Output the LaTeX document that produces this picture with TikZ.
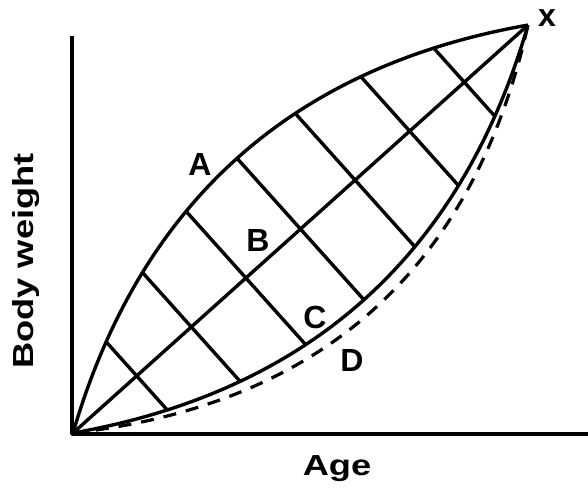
\documentclass[tikz,border=0pt]{standalone}
\usepackage{fontspec}
\setmainfont{Liberation Sans}
\newfontfamily\axisfont[FakeStretch=1.25]{Liberation Sans}
\usetikzlibrary{calc}

\begin{document}
\begin{tikzpicture}[x=1pt, y=-1pt, line width=3.4pt, line join=round,
    lbl/.style={font=\bfseries\fontsize{32}{32}\selectfont, inner sep=0pt},
    axlbl/.style={font=\axisfont\bfseries\fontsize{29}{29}\selectfont, inner sep=0pt, anchor=base}]
  \useasboundingbox (0,0) rectangle (588,492);
  % axes
  \coordinate (O) at (73,433);
  \coordinate (X) at (528,25);
  \coordinate (ytop) at (72,36);
  \coordinate (xend) at (588,434);
  \draw[line width=3.6pt] (ytop) |- (xend);
  \node[axlbl, rotate=90] (ylab) at (33,261) {Body weight};
  \node[axlbl] (xlab) at (337,475) {Age};
  % lens along the diagonal O -> X
  \begin{scope}[shift={(O)}, rotate=41.88, x=1pt, y=1pt]
    \def\len{611.1}
    \draw (0,0) .. controls (\len/3,126.7) and (2*\len/3,126.7) .. (\len,0);   % A
    \draw (0,0) -- (\len,0);                                                   % B
    \draw (0,0) .. controls (\len/3,-126.7) and (2*\len/3,-126.7) .. (\len,0); % C
    \draw[line width=3.2pt, dash pattern=on 13pt off 10pt]
      (0,0) .. controls (\len/3,-145) and (2*\len/3,-145) .. (\len,0);         % D
    \foreach \t in {0.14,0.26,0.38,0.5,0.62,0.74,0.86}{
      \pgfmathsetmacro\hh{380*\t*(1-\t)}
      \draw (\t*\len,\hh) -- (\t*\len,-\hh);
    }
  \end{scope}
  % curve labels
  \node[lbl] (la) at (200,164) {A};
  \node[lbl] (lb) at (258,240) {B};
  \node[lbl] (lc) at (315,317) {C};
  \node[lbl] (ld) at (352,360) {D};
  \node[lbl, anchor=base] (lx) at (547,27) {x};
\end{tikzpicture}
\end{document}
